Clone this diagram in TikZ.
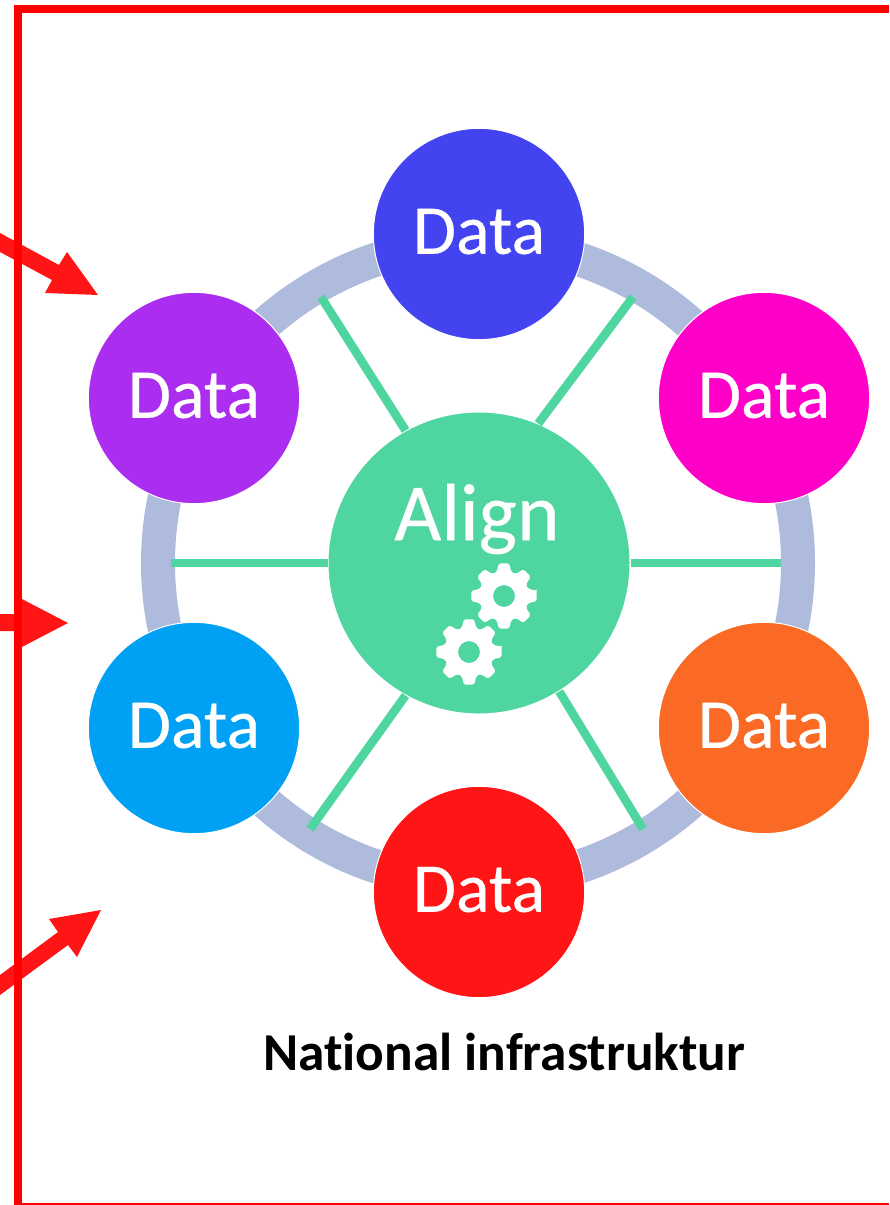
\documentclass[tikz,border=0pt]{standalone}
\usepackage{fontspec}
\setmainfont{Carlito}[Ligatures=NoCommon]
\newfontfamily\whitefont{Carlito}[FakeBold=0.4]
\usetikzlibrary{backgrounds}
\definecolor{ringc}{HTML}{AEBBDC}
\definecolor{hubc}{HTML}{4FD6A0}
\definecolor{arrowc}{HTML}{FF1515}
\definecolor{cA}{HTML}{4343F0}
\definecolor{cB}{HTML}{FF00C8}
\definecolor{cC}{HTML}{FA6A25}
\definecolor{cD}{HTML}{FF1515}
\definecolor{cE}{HTML}{00A0F5}
\definecolor{cF}{HTML}{AB2EF0}
\newcommand{\datatext}{\raisebox{4pt}{Data}}
\tikzset{
  datanode/.style={circle,draw=white,line width=0.75pt,minimum size=158.5pt,inner sep=0pt,text=white,font=\whitefont\fontsize{52.5}{52.5}\selectfont},
  spoke/.style={draw=hubc,line width=6.5pt},
  bigarrow/.style={fill=arrowc,draw=none},
  frameline/.style={draw=red,line cap=butt}
}
\newcommand{\gearshape}[2]{%
  \begin{scope}[shift={(#1,#2)}]
  \fill[white,even odd rule,rounded corners=1.2pt] (-9:33)
    \foreach \k in {0,...,7}{
      -- ({\k*45-9}:33) -- ({\k*45+9}:33) -- ({\k*45+17}:25) -- ({\k*45+28}:25)
    } -- cycle
    (11,0) arc[start angle=0,end angle=360,radius=11];
  \end{scope}}
\begin{document}
\begin{tikzpicture}[x=0.75pt,y=-0.75pt]
\useasboundingbox (0,0) rectangle (889,1205);
\node[circle,fill=hubc,draw=white,line width=0.75pt,minimum size=226.5pt,inner sep=0pt] (hub) at (479,563) {};
\node[datanode,fill=cA] (d1) at (479,234) {\datatext};
\node[datanode,fill=cB] (d2) at (764,398) {\datatext};
\node[datanode,fill=cC] (d3) at (764,728) {\datatext};
\node[datanode,fill=cD] (d4) at (479,892) {\datatext};
\node[datanode,fill=cE] (d5) at (194,728) {\datatext};
\node[datanode,fill=cF] (d6) at (194,398) {\datatext};
\node[text=white,font=\whitefont\fontsize{61}{61}\selectfont] (alignlabel) at (477,519) {Align};
\node[font=\fontsize{40}{40}\selectfont\bfseries] (title) at (504,1052) {National infrastruktur};
\begin{pgfonlayer}{background}
  \draw[draw=ringc,line width=25.5pt] (478,563) circle[radius=320];
\end{pgfonlayer}
\coordinate (s1) at (633,297);
\coordinate (s2) at (781,563);
\coordinate (s3) at (643,829);
\coordinate (s4) at (310,829);
\coordinate (s5) at (171,563);
\coordinate (s6) at (321,297);
\draw[spoke] (hub.67) -- (s1);
\draw[spoke] (hub.0) -- (s2);
\draw[spoke] (hub.302) -- (s3);
\draw[spoke] (hub.241) -- (s4);
\draw[spoke] (hub.180) -- (s5);
\draw[spoke] (hub.119) -- (s6);
\gearshape{504}{596}
\gearshape{469}{652}
\fill[bigarrow] (0,233) -- (59,265) -- (67,252) -- (98,295) -- (45,293) -- (52,280) -- (0,252) -- cycle;
\fill[bigarrow] (0,614) -- (20,614) -- (20,598) -- (68,623) -- (20,648) -- (20,631) -- (0,631) -- cycle;
\fill[bigarrow] (0,975) -- (58,932) -- (49,919) -- (101,910) -- (77,957) -- (68,945) -- (0,995) -- cycle;
\draw[frameline,line width=6pt] (889,9) -- (18,9) -- (18,1205);
\draw[frameline,line width=1.5pt] (18,1204) -- (889,1204);
\end{tikzpicture}
\end{document}
